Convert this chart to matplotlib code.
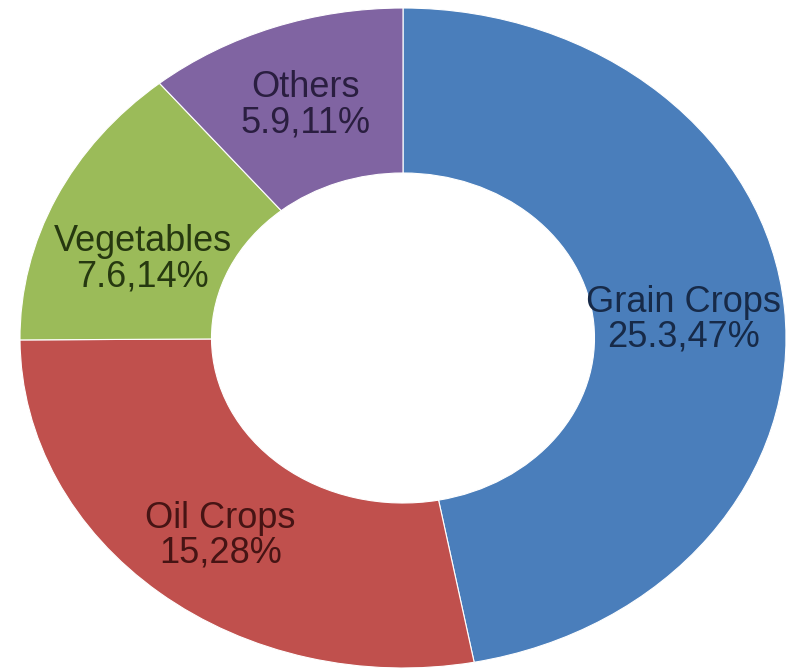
import numpy as np
import matplotlib
matplotlib.use("Agg")
import matplotlib.pyplot as plt

plt.rcParams['font.family'] = ['Liberation Sans', 'DejaVu Sans']

# crop output (value) and category names
crops = ['Grain Crops', 'Oil Crops', 'Vegetables', 'Others']
output = [25.3, 15, 7.6, 5.9]
colors = ['#4a7ebb', '#c0504d', '#9bbb59', '#8064a2']
text_colors = ['#172a48', '#461414', '#263810', '#2a1e40']

total = sum(output)
shares = [round(v / total * 100) for v in output]


def fmt(v):
    return f"{v:g}"


fig = plt.figure(figsize=(8, 6.7), dpi=100)
# the ring is drawn a bit wider than tall
ax = fig.add_axes([20 / 800, 2 / 670, 766 / 800, 660 / 670])

wedges, _ = ax.pie(output, colors=colors, startangle=90, counterclock=False,
                   radius=1.0, wedgeprops=dict(width=0.5, edgecolor='white', linewidth=0.8))
ax.set_aspect('auto')
ax.set_xlim(-1, 1)
ax.set_ylim(-1, 1)
ax.axis('off')

# labels sit in the middle of the ring, vegetables nudged down a little
nudge = {'Vegetables': (0.0, -0.08), 'Grain Crops': (-0.015, -0.015), 'Oil Crops': (0.0, -0.02)}
for w, name, v, p, tc in zip(wedges, crops, output, shares, text_colors):
    mid = np.deg2rad((w.theta1 + w.theta2) / 2)
    dx, dy = nudge.get(name, (0.0, 0.0))
    x = 0.75 * np.cos(mid) + dx
    y = 0.75 * np.sin(mid) + dy
    ax.text(x, y, f"{name}\n{fmt(v)},{p}%", ha='center', va='center',
            fontsize=26, color=tc, linespacing=1.0)

fig.savefig('out.png', dpi=100, facecolor='white')
